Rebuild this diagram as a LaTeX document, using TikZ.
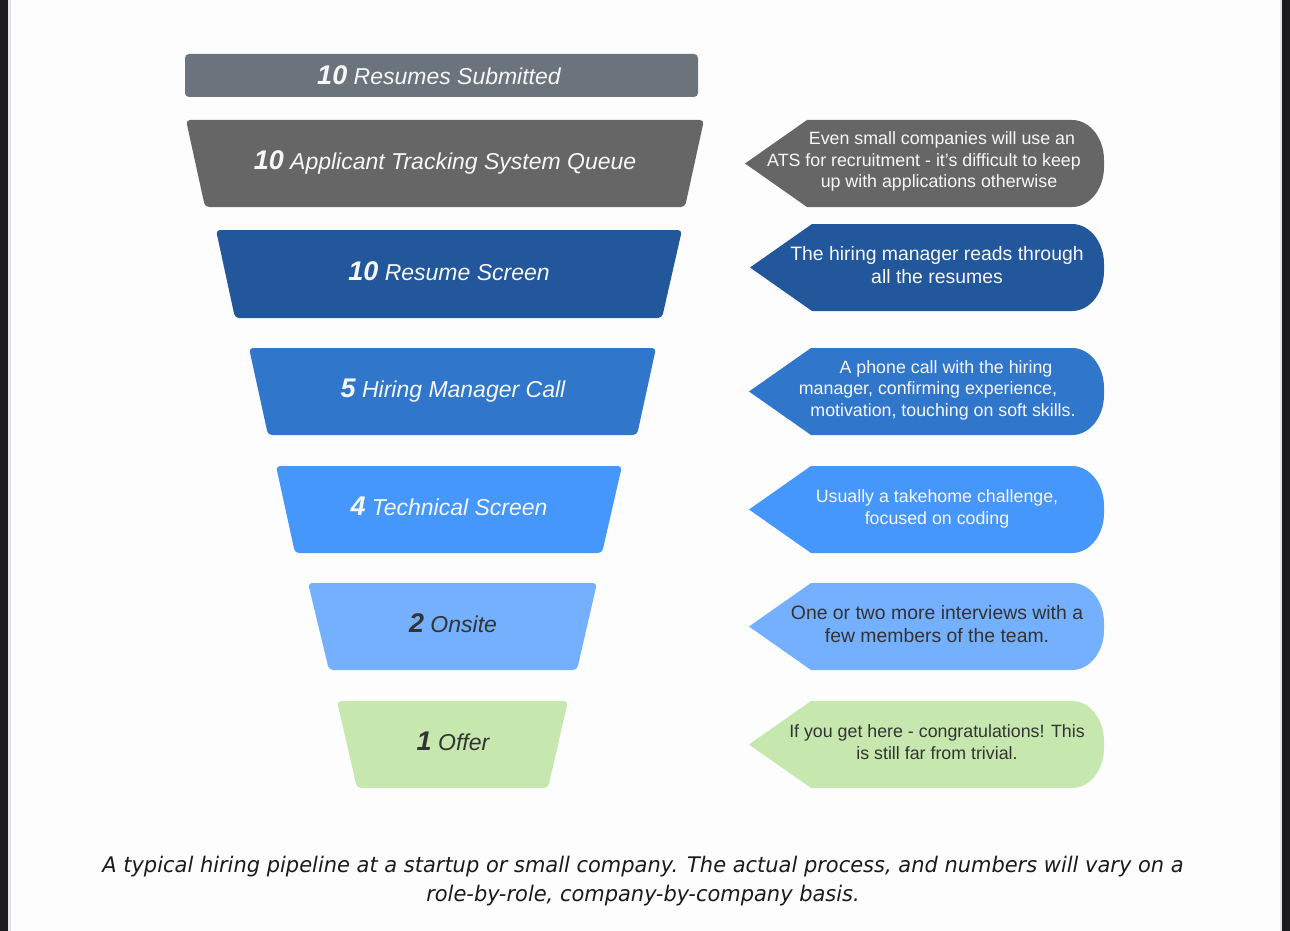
\documentclass[tikz,border=0pt]{standalone}
\usepackage{fontspec}
\setmainfont{Liberation Sans}
\newfontfamily\captionfont{DejaVu Sans}[FakeStretch=0.975]

\definecolor{edgeblack}{HTML}{1B1B1D}
\definecolor{edgegray}{HTML}{E6E6E6}
\definecolor{pagebg}{HTML}{FDFDFD}
\definecolor{slate}{HTML}{6B737C}
\definecolor{stonegray}{HTML}{666666}
\definecolor{navy}{HTML}{23579B}
\definecolor{midblue}{HTML}{3077CB}
\definecolor{brightblue}{HTML}{4597FC}
\definecolor{skyblue}{HTML}{74B0FD}
\definecolor{palegreen}{HTML}{C6E7AE}
\definecolor{darktext}{HTML}{333333}
\definecolor{lighttext}{HTML}{F7F7F7}
\definecolor{captiontext}{HTML}{1A1A1A}

% trapezoid stage: top y, bottom y, top-left x, top-right x, bottom-left x, bottom-right x, colour
\newcommand\funnelstage[7]{%
  \fill[#7, rounded corners=4pt] (#3,#1) -- (#4,#1) -- (#6,#2) -- (#5,#2) -- cycle;}

% arrow-shaped note pointing left: top y, bottom y, tip x, colour
\newcommand\notebadge[4]{%
  \fill[#4] (#3,{(#1+#2)/2}) -- ({#3+62},#1) -- (1072,#1)
    arc[start angle=-90, end angle=0, x radius=32, y radius=40]
    -- (1104,{#2-40})
    arc[start angle=0, end angle=90, x radius=32, y radius=40]
    -- ({#3+62},#2) -- cycle;}

% stage count, set larger and bold
\newcommand\stagecount[1]{{\fontsize{27}{30}\selectfont\bfseries #1}}

\begin{document}
\begin{tikzpicture}[x=1pt, y=-1pt,
  stagetext/.style={inner sep=0pt, anchor=base, font=\fontsize{23}{27}\selectfont\itshape},
  notetext/.style={inner sep=0pt, align=center, font=\fontsize{17.8}{21.5}\selectfont},
  bignote/.style={inner sep=0pt, align=center, font=\fontsize{19.4}{23}\selectfont},
  captionnote/.style={inner sep=0pt, align=center, text=captiontext,
    font=\captionfont\itshape\fontsize{21.5}{29}\selectfont}]

\useasboundingbox (0,0) rectangle (1290,931);
\fill[pagebg] (0,0) rectangle (1290,931);
\fill[edgeblack] (0,0) rectangle (8,931);
\fill[edgeblack] (1282,0) rectangle (1290,931);
\fill[edgegray] (8,0) rectangle (10.5,931);
\fill[edgegray] (1279.5,0) rectangle (1282,931);

% funnel stages
\fill[slate, rounded corners=4pt] (185,54) rectangle (698,97);
\funnelstage{120}{207}{186}{704}{205}{685}{stonegray}
\funnelstage{230}{318}{216}{682}{235}{662}{navy}
\funnelstage{348}{435}{249}{656}{268}{637}{midblue}
\funnelstage{466}{553}{276}{622}{295}{602}{brightblue}
\funnelstage{583}{670}{308}{597}{329}{577}{skyblue}
\funnelstage{701}{788}{337}{568}{357}{548}{palegreen}

\node[stagetext, text=lighttext] (s0) at (439,85) {\stagecount{10} Resumes Submitted};
\node[stagetext, text=lighttext] (s1) at (445,169) {\stagecount{10} Applicant Tracking System Queue};
\node[stagetext, text=lighttext] (s2) at (449,280) {\stagecount{10} Resume Screen};
\node[stagetext, text=lighttext] (s3) at (453,397) {\stagecount{5} Hiring Manager Call};
\node[stagetext, text=lighttext] (s4) at (449,515) {\stagecount{4} Technical Screen};
\node[stagetext, text=darktext] (s5) at (453,632) {\stagecount{2} Onsite};
\node[stagetext, text=darktext] (s6) at (453,750) {\stagecount{1} Offer};

% notes beside the stages
\notebadge{120}{207}{745}{stonegray}
\notebadge{224}{311}{750}{navy}
\notebadge{348}{435}{749}{midblue}
\notebadge{466}{553}{749}{brightblue}
\notebadge{583}{670}{749}{skyblue}
\notebadge{701}{788}{749}{palegreen}

\node[notetext, text=lighttext] (n1) at (937,161.5)
  {\kern10pt Even small companies will use an\\
   ATS for recruitment - it's difficult to keep\kern26pt\\
   \kern4pt up with applications otherwise};
\node[bignote, text=lighttext] (n2) at (937,265)
  {The hiring manager reads through\\ all the resumes};
\node[notetext, text=lighttext] (n3) at (937,390)
  {\kern18pt A phone call with the hiring\\
   manager, confirming experience,\kern18pt\\
   \kern12pt motivation, touching on soft skills.};
\node[notetext, text=lighttext] (n4) at (937,509)
  {Usually a takehome challenge,\\ focused on coding};
\node[bignote, text=darktext] (n5) at (937,624)
  {One or two more interviews with a\\ few members of the team.};
\node[notetext, text=darktext] (n6) at (937,742)
  {If you get here - congratulations! This\\ is still far from trivial.};

% caption
\node[captionnote] (cap) at (643,881)
  {A typical hiring pipeline at a startup or small company. The actual process, and numbers will vary on a\\
   role-by-role, company-by-company basis.};
\end{tikzpicture}
\end{document}
